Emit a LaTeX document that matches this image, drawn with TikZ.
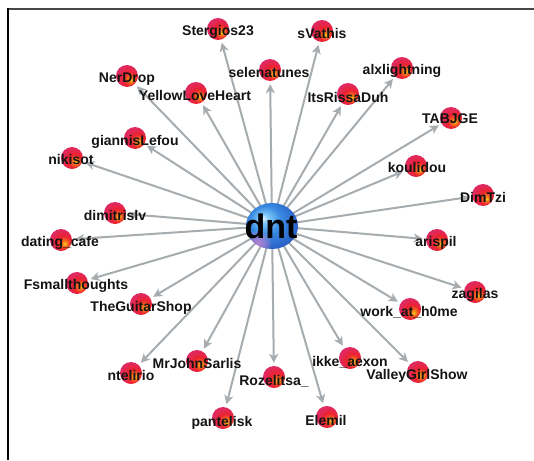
\documentclass[tikz,border=0pt]{standalone}
\usepackage{fontspec}
\setmainfont{Liberation Sans}
\usetikzlibrary{arrows.meta,shapes.geometric}

% glossy sphere shadings
\definecolor{rbhot}{HTML}{FFC61E}
\definecolor{rbmid}{HTML}{F7741C}
\definecolor{rbred}{HTML}{EC2230}
\definecolor{rbrim}{HTML}{E02A62}
\definecolor{rbdark}{HTML}{B81C50}
\pgfdeclareradialshading{redball}{\pgfpoint{9bp}{-9bp}}{%
  color(0bp)=(rbhot); color(6bp)=(rbmid); color(15bp)=(rbred);
  color(28bp)=(rbrim); color(50bp)=(rbdark)}
\definecolor{bbhi}{HTML}{DDF6FF}
\definecolor{bblight}{HTML}{7CC6F6}
\definecolor{bbmid}{HTML}{3A8BE2}
\definecolor{bbrim}{HTML}{2A62C8}
\definecolor{bbdark}{HTML}{1E4298}
\pgfdeclareradialshading{blueball}{\pgfpoint{-9bp}{9bp}}{%
  color(0bp)=(bbhi); color(5bp)=(bblight); color(15bp)=(bbmid);
  color(28bp)=(bbrim); color(50bp)=(bbdark)}
\definecolor{edgegray}{HTML}{A6ACAF}
\definecolor{hubpink}{HTML}{E68AD6}

\pgfdeclarelayer{bg}
\pgfsetlayers{bg,main}

\tikzset{
  ball/.style={circle, minimum size=22pt, inner sep=0pt, shading=redball},
  hub/.style={ellipse, minimum width=52pt, minimum height=46pt, inner sep=0pt, shading=blueball},
  lbl/.style={font=\fontsize{14}{14}\selectfont\bfseries, text=black!92, inner sep=0pt},
  hublbl/.style={font=\fontsize{34}{34}\selectfont\bfseries, text=black, inner sep=0pt},
  edge/.style={draw=edgegray, line width=2pt, shorten >=3pt,
    -{Stealth[length=9pt,width=9pt,inset=2.5pt]}, color=edgegray},
  frame/.style={line width=2pt}
}

\begin{document}
\begin{tikzpicture}[x=1pt,y=-1pt]
\useasboundingbox (0,0) rectangle (534,460);

% frame lines
\draw[frame, black!72] (7,9) -- (534,9);
\draw[frame, black] (8,8) -- (8,460);

% hub with a soft pink tint at its lower left
\node[hub] (c) at (272,226) {};
\begin{scope}
  \clip (272,226) ellipse [x radius=26, y radius=23];
  \foreach \r in {13,11,9,7,5,3}
    \fill[hubpink, opacity=0.17] (258,244) circle (\r);
\end{scope}
\node[hublbl] (ct) at (271,226) {dnt};

% users: index / ball x / ball y / label x / label y / name
\foreach \i/\bx/\by/\lx/\ly/\txt in {
  1/218/29/218/32/Stergios23,
  2/322/31/322/33/sVathis,
  3/270/70/269/72/selenatunes,
  4/127/76/127/79/NerDrop,
  5/196/93/195/95/YellowLoveHeart,
  6/402/68/402/71/alxlightning,
  7/348/94/348/97/ItsRissaDuh,
  8/451/118/450/119/TABJGE,
  9/135/138/135/142/giannisLefou,
  10/72/158/71/159/nikisot,
  11/416/166/417/167/koulidou,
  12/483/195/483/197/DimTzi,
  13/115/213/115/215/dimitrislv,
  14/61/240/60/243/dating\_cafe,
  15/437/240/436/243/arispil,
  16/77/283/76/286/Fsmallthoughts,
  17/475/292/475/295/zagilas,
  18/141/304/141/308/TheGuitarShop,
  19/410/309/409/312/work\_at\_h0me,
  20/197/361/197/363/MrJohnSarlis,
  21/131/373/131/375/ntelirio,
  22/274/377/274/381/Rozelitsa\_,
  23/350/358/350/362/ikke\_aexon,
  24/418/372/417/376/ValleyGirlShow,
  25/223/418/222/423/pantelisk,
  26/327/417/326/420/Elemil}
{
  \node[ball] (n\i) at (\bx,\by) {};
  \node[lbl] (t\i) at (\lx,\ly) {\txt};
}

% connectors from the hub to every user
\begin{pgfonlayer}{bg}
  \fill[white] (0,0) rectangle (534,460);
  \foreach \i in {1,...,26} \draw[edge] (c.center) -- (n\i);
\end{pgfonlayer}
\end{tikzpicture}
\end{document}
